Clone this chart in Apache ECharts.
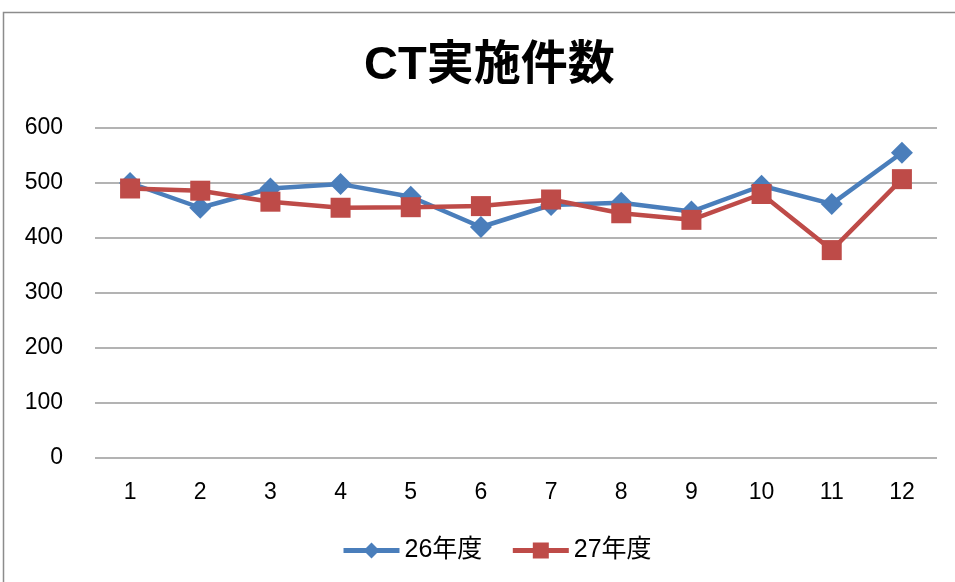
<!DOCTYPE html>
<html><head><meta charset="utf-8">
<script src="https://cdn.jsdelivr.net/npm/echarts@6/dist/echarts.min.js"></script>
<style>html,body{margin:0;padding:0;background:#fff}#c{width:955px;height:582px}</style>
</head><body><div id="c"></div>
<script>
const categories = ['1','2','3','4','5','6','7','8','9','10','11','12'];
const series26 = [500, 455, 490, 498, 475, 420, 460, 464, 448, 495, 462, 555];
const series27 = [490, 486, 466, 455, 456, 458, 470, 445, 433, 480, 378, 507];
const yTicks = [0, 100, 200, 300, 400, 500, 600];
const font = '"Liberation Sans", "Noto Sans CJK JP", sans-serif';
const chart = echarts.init(document.getElementById('c'));
chart.setOption({
  animation: false,
  backgroundColor: '#fff',
  graphic: [{type:'rect', shape:{x:3.5,y:12.5,width:1000,height:1000}, style:{fill:'none', stroke:'#8c8c8c', lineWidth:1.5}, silent:true}],
  title: {text:'CT実施件数', left:359, top:38, textStyle:{fontFamily:font, fontSize:47, fontWeight:'bold', color:'#000'}},
  grid: {left:95, right:18, top:128, bottom:124},
  legend: {bottom:14, left:336, itemWidth:56, itemHeight:20, itemGap:28,
    lineStyle:{width:5},
    textStyle:{fontFamily:font, fontSize:25, color:'#000'}, data:['26年度','27年度']},
  xAxis: {type:'category', data:categories, boundaryGap:true,
    axisLine:{show:false}, axisTick:{show:false},
    axisLabel:{fontFamily:font, fontSize:23, color:'#000', margin:23}},
  yAxis: {type:'value', min:yTicks[0], max:yTicks[yTicks.length-1], interval:100,
    axisLine:{show:false}, axisTick:{show:false},
    axisLabel:{fontFamily:font, fontSize:23, color:'#000', margin:32}},
  series: [
    {name:'26年度', type:'line', data:series26, symbol:'diamond', symbolSize:22,
      itemStyle:{color:'#4a7ebb'}, lineStyle:{color:'#4a7ebb', width:4.5}},
    {name:'27年度', type:'line', data:series27, symbol:'rect', symbolSize:20,
      itemStyle:{color:'#be4b48'}, lineStyle:{color:'#be4b48', width:4.5}}
  ]
});
chart.setOption({yAxis:{splitLine:{lineStyle:{color:'#9a9a9a', width:1.5}}}});
</script></body></html>
